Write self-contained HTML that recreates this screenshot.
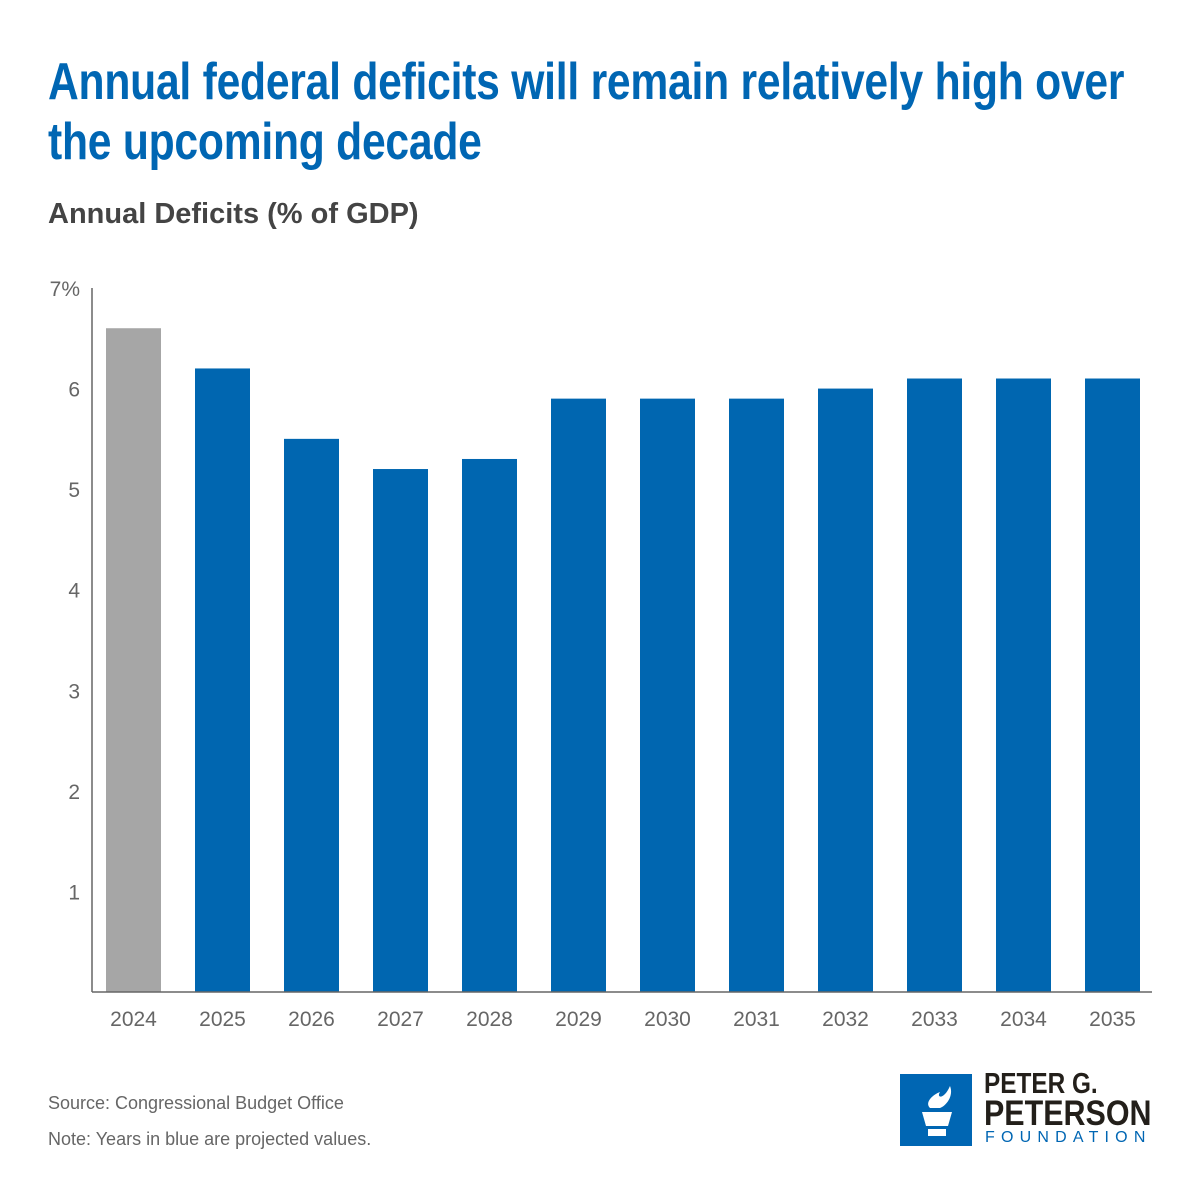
<!DOCTYPE html>
<html><head><meta charset="utf-8"><style>
body{margin:0;width:1200px;height:1200px;background:#fff;position:relative;overflow:hidden;font-family:"Liberation Sans",sans-serif}
.t{position:absolute;left:48px;top:52px;font-weight:bold;font-size:52px;line-height:60px;color:#0066b3;white-space:nowrap;transform:scaleX(0.82);transform-origin:0 0;letter-spacing:-0.3px}
.st{position:absolute;left:48px;top:198px;font-size:29px;font-weight:bold;color:#444}
.note{position:absolute;left:48px;font-size:18px;color:#666}
</style></head><body>
<div class="t">Annual federal deficits will remain relatively high over<br>the upcoming decade</div>
<div class="st">Annual Deficits (% of GDP)</div>
<svg id="c" width="1200" height="1200" style="position:absolute;left:0;top:0"></svg>
<div class="note" style="top:1093px">Source: Congressional Budget Office</div>
<div class="note" style="top:1129px">Note: Years in blue are projected values.</div>
<div style="position:absolute;left:900px;top:1074px">
<svg width="72" height="72"><rect width="72" height="72" fill="#0066b3"/>
<path d="M22 38 L52 38 L48 52 L26 52 Z M28 55 L46 55 L46 62 L28 62 Z" fill="#fff"/>
<path d="M30 34 C24 28 34 20 40 18 C36 24 44 26 50 12 C54 22 46 32 40 34 Z" fill="#fff"/></svg>
<div style="position:absolute;left:84px;top:-4px;font-weight:bold;font-size:29px;line-height:29px;color:#231f1a;white-space:nowrap;transform:scaleX(0.84);transform-origin:0 0">PETER G.</div>
<div style="position:absolute;left:84px;top:22px;font-weight:bold;font-size:35px;line-height:35px;color:#231f1a;white-space:nowrap;transform:scaleX(0.87);transform-origin:0 0">PETERSON</div>
<div style="position:absolute;left:85px;top:56px;font-size:16px;line-height:16px;letter-spacing:6.2px;color:#0066b3;white-space:nowrap">FOUNDATION</div>
</div>
<script>
const years=["2024","2025","2026","2027","2028","2029","2030","2031","2032","2033","2034","2035"];
const deficits=[6.6,6.2,5.5,5.2,5.3,5.9,5.9,5.9,6.0,6.1,6.1,6.1];
const projected=[false,true,true,true,true,true,true,true,true,true,true,true];
const yTicks=[1,2,3,4,5,6,7];
const yTickLabels=["1","2","3","4","5","6","7%"];
const svg=document.getElementById('c');const NS='http://www.w3.org/2000/svg';
const x0=92,x1=1152,y0=992,yTop=288,yMax=7;
const y=v=>y0-(v/yMax)*(y0-yTop);
const step=89,bw=55;
const x=i=>106+i*step;
function mk(t,a){const e=document.createElementNS(NS,t);for(const k in a)e.setAttribute(k,a[k]);svg.appendChild(e);return e;}
deficits.forEach((v,i)=>{
 const r=mk('rect',{x:x(i),y:y(v),width:bw,height:y0-y(v),fill:projected[i]?'#0066b0':'#a6a6a6'});
 
 
 const t=mk('text',{x:x(i)+bw/2,y:1026,'text-anchor':'middle','font-size':21,fill:'#666','font-family':'Liberation Sans, sans-serif'});
 t.textContent=years[i];
 
 
});
yTicks.forEach((v,i)=>{
 const t=mk('text',{x:80,y:y(v)+8,'text-anchor':'end','font-size':21,fill:'#666','font-family':'Liberation Sans, sans-serif'});
 t.textContent=yTickLabels[i];
 
 
});
const ya=mk('line',{x1:x0,x2:x0,y1:yTop,y2:y0,stroke:'#666','stroke-width':1.5});


const xa=mk('line',{x1:x0,x2:x1,y1:y0,y2:y0,stroke:'#666','stroke-width':1.5});


</script>
</body></html>
